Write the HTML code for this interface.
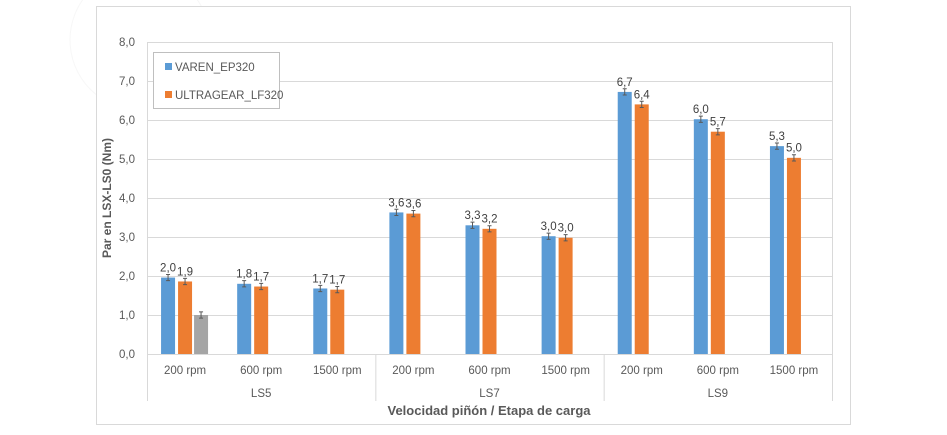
<!DOCTYPE html>
<html><head><meta charset="utf-8"><style>
body{margin:0;background:#fff;font-family:"Liberation Sans",sans-serif;}
svg text{font-family:"Liberation Sans",sans-serif;}
</style></head><body>
<svg width="947" height="430" viewBox="0 0 947 430" xmlns="http://www.w3.org/2000/svg" id="chart">
<circle cx="140" cy="40" r="70" fill="none" stroke="#f7f7f7"/>
<rect x="96.5" y="6.5" width="754" height="418" fill="#fff" stroke="#d9d9d9"/>
<rect x="147.5" y="42.5" width="685" height="312" fill="none" stroke="#d9d9d9"/>
<g id="grid"></g><g id="bars"></g><g id="xaxis"></g>
<text x="111" y="198" transform="rotate(-90 111 198)" text-anchor="middle" font-size="12" font-weight="bold" fill="#595959">Par en LSX-LS0 (Nm)</text>
<text x="489" y="415" text-anchor="middle" font-size="13" font-weight="bold" fill="#595959">Velocidad piñón / Etapa de carga</text>
<g>
<rect x="153.5" y="52.5" width="126" height="56" fill="#fff" stroke="#bfbfbf"/>
<rect x="165" y="63" width="7" height="7" fill="#5b9bd5"/>
<text x="175" y="71" font-size="11.5" fill="#595959">VAREN_EP320</text>
<rect x="165" y="91" width="7" height="7" fill="#ed7d31"/>
<text x="175" y="99" font-size="11.5" fill="#595959">ULTRAGEAR_LF320</text>
</g>
</svg>
<script>
const categories=["200 rpm","600 rpm","1500 rpm","200 rpm","600 rpm","1500 rpm","200 rpm","600 rpm","1500 rpm"];
const groups=["LS5","LS7","LS9"];
const varen=[1.96,1.80,1.68,3.63,3.30,3.02,6.72,6.02,5.33];
const ultragear=[1.86,1.73,1.65,3.60,3.21,2.98,6.40,5.70,5.03];
const grayS=[1.0,null,null,null,null,null,null,null,null];
const varenLabels=["2,0","1,8","1,7","3,6","3,3","3,0","6,7","6,0","5,3"];
const ultraLabels=["1,9","1,7","1,7","3,6","3,2","3,0","6,4","5,7","5,0"];
const errV=[0.08,0.08,0.08,0.08,0.08,0.08,0.08,0.08,0.08];
const yTicks=[0,1,2,3,4,5,6,7,8];
const NS="http://www.w3.org/2000/svg";
const L=147,R=832,T=42,B=354;
const y=v=>B-(v/8)*(B-T);
const band=(R-L)/categories.length;
const xc=i=>L+band*(i+0.5);
function mk(t,a,p){const e=document.createElementNS(NS,t);for(const k in a)e.setAttribute(k,a[k]);p.appendChild(e);return e;}
const grid=document.getElementById('grid'),bars=document.getElementById('bars'),xa=document.getElementById('xaxis');
yTicks.forEach(v=>{
 const g=mk('line',{x1:L,x2:R,y1:y(v)+0.5,y2:y(v)+0.5,stroke:'#d9d9d9'},grid);
 
 
 const t=mk('text',{x:L-12,y:y(v)+4,'text-anchor':'end','font-size':11.5,fill:'#595959'},grid);
 t.textContent=v.toFixed(1).replace('.',',');
 
 
});
const series=[[varen,'#5b9bd5',varenLabels,-17],[ultragear,'#ed7d31',ultraLabels,0],[grayS,'#a5a5a5',null,16]];
series.forEach(([vals,col,labs,off],si)=>{
 vals.forEach((v,i)=>{
  if(v==null)return;
  const cx=xc(i)+off;
  const r=mk('rect',{x:cx-7,y:y(v),width:14,height:B-y(v),fill:col},bars);
  
  
  const e=errV[i],y1=y(v+e),y2=y(v-e);
  const eb=mk('path',{d:`M${cx},${y1}V${y2}M${cx-2},${y1}H${cx+2}M${cx-2},${y2}H${cx+2}`,stroke:'#595959','stroke-width':1,fill:'none'},bars);
  
  
  if(labs){
   const t=mk('text',{x:cx,y:y(v+e)-3,'text-anchor':'middle','font-size':11.5,fill:'#404040'},bars);
   t.textContent=labs[i];
   
   
  }
 });
});
categories.forEach((c,i)=>{
 const t=mk('text',{x:xc(i),y:374,'text-anchor':'middle','font-size':11.5,fill:'#595959'},xa);
 t.textContent=c;
 
 
});
for(let g=0;g<=groups.length;g++){
 const x=L+band*3*g+0.5;
 const l=mk('line',{x1:x,x2:x,y1:B,y2:401,stroke:'#d9d9d9'},xa);
 
 
}
groups.forEach((g,i)=>{
 const t=mk('text',{x:L+band*(3*i+1.5),y:397,'text-anchor':'middle','font-size':11.5,fill:'#595959'},xa);
 t.textContent=g;
 
 
});
</script>
</body></html>
